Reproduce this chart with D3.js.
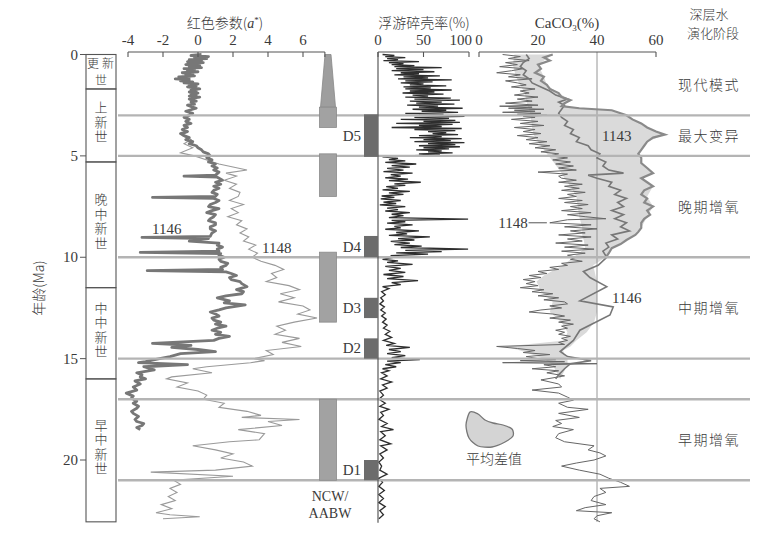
<!DOCTYPE html>
<html><head><meta charset="utf-8">
<script src="https://cdn.jsdelivr.net/npm/d3@7"></script>
<style>
body{margin:0;background:#fff}
svg{display:block}
text{font-family:'Liberation Serif','Noto Sans CJK SC',serif;fill:#3a3a3a}
.cjk{font-family:'Noto Sans CJK SC','Liberation Serif',sans-serif;font-weight:300}
</style>
</head><body>
<svg id="c" width="771" height="549"></svg>
<script>
// ---------------- DATA ----------------
const ageTicks = [0, 5, 10, 15, 20];
const redTicks = [-4, -2, 0, 2, 4, 6];
const fragTicks = [0, 50, 100];
const caTicks = [0, 20, 40, 60];

const epochNames = ["更新世", "上新世", "晚中新世", "中中新世", "早中新世"];
const epochBounds = [0, 1.7, 5.3, 11.5, 16.0, 23.05];

const eventLines = [3, 5, 10, 15, 17, 21];

const stageNames = ["现代模式", "最大变异", "晚期增氧", "中期增氧", "早期增氧"];
const stageSpans = [[0, 3], [3, 5], [5, 10], [10, 15], [17, 21]];

const ncwBars = [[0, 2.6, "taper"], [2.6, 3.6, "rect"], [4.9, 7.0, "rect"], [9.75, 13.2, "rect"], [17.0, 21.0, "rect"]];
const dEvents = [["D5", 2.95, 5.05], ["D4", 8.95, 10.0], ["D3", 12.0, 13.0], ["D2", 14.0, 15.0], ["D1", 20.0, 21.0]];

// red parameter a* (age Ma, a*)
const red1146 = [[0,0.2],[0.05,-0.4],[0.1,0.6],[0.15,-0.2],[0.2,0.5],[0.25,-0.5],[0.3,0.2],[0.35,-0.6],[0.4,0.3],[0.45,-0.3],[0.5,-0.7],[0.55,0.1],[0.6,-0.5],[0.65,0.2],[0.7,-0.8],[0.75,-0.2],[0.8,-0.6],[0.85,0.0],[0.9,-0.9],[0.95,-0.3],[1.0,-0.7],[1.05,-0.2],[1.1,-1.1],[1.15,-0.5],[1.2,-1.3],[1.25,-0.5],[1.3,-1.0],[1.35,-0.3],[1.4,-0.8],[1.45,0.0],[1.5,-0.5],[1.55,-0.1],[1.6,-0.6],[1.7,0.1],[1.75,-0.4],[1.8,-0.1],[1.85,-0.5],[1.9,0.0],[1.95,-0.4],[2.0,-0.1],[2.05,-0.5],[2.1,0.1],[2.15,-0.3],[2.2,-0.5],[2.3,-0.1],[2.35,-0.4],[2.45,-0.2],[2.5,-0.6],[2.6,-0.3],[2.65,-0.1],[2.75,-0.5],[2.8,-0.7],[2.9,-0.3],[3.0,-0.5],[3.1,-0.8],[3.2,-0.5],[3.3,-0.7],[3.4,-0.4],[3.5,-0.8],[3.6,-0.6],[3.7,-0.9],[3.8,-0.6],[3.9,-1.0],[4.0,-0.8],[4.1,-0.5],[4.2,-0.7],[4.3,-0.3],[4.4,-0.5],[4.5,-0.1],[4.6,0.0],[4.7,0.2],[4.8,0.3],[4.9,0.6],[5.0,0.7],[5.1,0.5],[5.2,0.8],[5.3,0.6],[5.4,1.0],[5.5,0.8],[5.6,1.1],[5.7,0.9],[5.8,1.2],[5.95,1.0],[6.0,-0.8],[6.05,1.1],[6.2,1.4],[6.3,1.0],[6.4,1.3],[6.5,0.9],[6.6,1.2],[6.7,0.9],[6.8,0.8],[6.9,1.1],[7.0,1.0],[7.05,-2.6],[7.1,0.9],[7.2,1.2],[7.3,1.0],[7.4,0.7],[7.5,0.6],[7.6,1.2],[7.7,0.8],[7.8,0.5],[7.9,1.0],[8.0,0.9],[8.1,0.7],[8.2,0.6],[8.3,1.0],[8.4,1.0],[8.5,0.7],[8.6,0.7],[8.7,1.0],[8.8,0.8],[8.97,0.7],[9.02,-3.2],[9.08,0.6],[9.2,-0.5],[9.3,1.2],[9.4,1.1],[9.5,1.4],[9.6,1.1],[9.7,1.2],[9.76,-3.3],[9.82,1.3],[9.9,1.2],[10.0,1.5],[10.1,1.2],[10.2,1.3],[10.3,1.7],[10.4,1.6],[10.5,1.3],[10.6,1.4],[10.66,-2.9],[10.72,1.6],[10.8,1.9],[10.9,2.2],[11.0,1.8],[11.1,1.9],[11.2,2.4],[11.3,2.5],[11.45,2.8],[11.6,2.2],[11.7,2.6],[11.8,2.5],[11.9,1.6],[12.0,1.1],[12.15,1.8],[12.25,1.5],[12.35,2.7],[12.5,1.6],[12.6,1.2],[12.7,0.7],[12.8,1.0],[12.9,1.2],[13.0,0.8],[13.1,0.9],[13.2,1.3],[13.3,1.0],[13.4,1.6],[13.5,1.1],[13.6,0.8],[13.7,1.3],[13.8,1.0],[13.9,1.8],[14.0,1.2],[14.1,0.9],[14.25,-2.6],[14.35,-0.4],[14.45,-1.5],[14.55,0.0],[14.65,1.0],[14.75,-1.0],[14.9,-1.6],[15.0,-2.2],[15.15,-3.0],[15.2,-3.4],[15.3,-0.6],[15.4,-3.1],[15.55,-2.5],[15.7,-3.5],[15.8,-3.2],[15.9,-3.3],[16.0,-3.0],[16.1,-3.6],[16.25,-3.3],[16.4,-3.7],[16.55,-3.5],[16.7,-4.1],[16.85,-3.7],[16.95,-3.8],[17.1,-3.5],[17.2,-3.7],[17.35,-3.4],[17.45,-3.5],[17.6,-3.8],[17.7,-3.7],[17.85,-3.4],[18.0,-3.6],[18.1,-3.5],[18.2,-3.1],[18.3,-3.2],[18.4,-3.5],[18.5,-3.3]];
const red1148 = [[3.8,-0.6],[4.0,-0.9],[4.2,-0.4],[4.4,-0.8],[4.6,-0.3],[4.85,-1.0],[5.0,-0.2],[5.2,0.5],[5.4,1.2],[5.55,2.0],[5.7,2.8],[5.85,1.6],[6.0,2.2],[6.2,1.5],[6.4,2.2],[6.6,1.8],[6.8,2.4],[7.0,2.3],[7.2,1.8],[7.4,2.6],[7.6,1.9],[7.8,2.3],[8.0,1.7],[8.2,2.5],[8.4,2.2],[8.6,2.8],[8.8,2.4],[9.0,2.9],[9.2,2.6],[9.4,3.3],[9.6,2.9],[9.8,3.4],[10.0,3.1],[10.2,3.6],[10.4,4.4],[10.6,4.9],[10.8,4.2],[11.0,4.5],[11.2,3.9],[11.4,5.2],[11.6,5.8],[11.8,4.7],[12.0,5.5],[12.2,4.6],[12.4,6.0],[12.6,6.4],[12.8,5.7],[13.0,6.8],[13.2,5.5],[13.4,4.5],[13.6,5.0],[13.8,4.4],[14.0,5.8],[14.2,4.8],[14.4,5.9],[14.6,3.9],[14.8,4.3],[15.0,3.2],[15.1,3.8],[15.2,3.0],[15.4,0.5],[15.5,-0.3],[15.7,0.8],[15.9,-1.5],[16.0,-1.8],[16.2,-0.6],[16.4,-1.2],[16.6,0.0],[16.8,0.5],[17.0,0.3],[17.2,1.5],[17.4,1.2],[17.6,2.8],[17.8,3.6],[17.9,2.5],[18.0,5.8],[18.1,4.0],[18.3,4.8],[18.5,2.3],[18.7,3.8],[19.0,3.5],[19.1,1.8],[19.3,-0.3],[19.5,1.0],[19.7,2.0],[19.9,1.3],[20.1,2.6],[20.3,3.1],[20.5,1.0],[20.6,-2.7],[20.8,2.0],[21.0,-1.4],[21.2,-1.0],[21.4,-1.6],[21.6,-1.2],[21.8,-1.7],[22.0,-1.3],[22.2,-2.1],[22.4,-1.5],[22.6,-2.4],[22.7,-1.6],[22.8,0.1],[22.9,-2.0]];

// planktonic foraminifera fragmentation (age Ma, %)
const frag = [[0.00,5],[0.05,18],[0.10,8],[0.15,30],[0.20,10],[0.25,22],[0.30,6],[0.35,45],[0.40,12],[0.45,28],[0.50,15],[0.55,40],[0.60,18],[0.65,70],[0.70,20],[0.75,50],[0.80,15],[0.85,62],[0.90,25],[0.95,45],[1.00,18],[1.05,68],[1.10,28],[1.15,55],[1.20,22],[1.25,81],[1.30,30],[1.35,60],[1.40,25],[1.45,50],[1.50,35],[1.55,75],[1.60,28],[1.65,58],[1.70,30],[1.75,81],[1.80,35],[1.85,62],[1.90,27],[1.95,72],[2.00,38],[2.05,55],[2.10,30],[2.15,80],[2.20,40],[2.25,90],[2.30,35],[2.35,70],[2.40,42],[2.45,84],[2.50,32],[2.55,66],[2.60,45],[2.65,93],[2.70,38],[2.75,75],[2.80,48],[2.85,88],[2.90,30],[2.95,72],[3.00,45],[3.05,95],[3.10,40],[3.15,78],[3.20,25],[3.25,85],[3.30,50],[3.35,90],[3.40,20],[3.45,82],[3.50,45],[3.55,70],[3.60,15],[3.65,92],[3.70,40],[3.75,85],[3.80,55],[3.85,75],[3.90,60],[3.95,88],[4.00,45],[4.05,70],[4.10,35],[4.15,92],[4.20,50],[4.25,80],[4.30,40],[4.35,95],[4.40,55],[4.45,85],[4.50,45],[4.55,90],[4.60,50],[4.65,78],[4.70,42],[4.75,70],[4.80,55],[4.85,82],[4.90,45],[4.95,68],[5.00,30],[5.05,5],[5.12,22],[5.18,12],[5.25,30],[5.32,8],[5.40,42],[5.48,15],[5.55,35],[5.62,10],[5.70,28],[5.78,6],[5.85,38],[5.92,14],[6.00,25],[6.08,8],[6.15,33],[6.22,12],[6.30,47],[6.38,18],[6.45,30],[6.52,9],[6.60,22],[6.68,5],[6.75,35],[6.82,12],[6.90,28],[6.98,4],[7.05,18],[7.12,3],[7.20,25],[7.28,6],[7.35,20],[7.42,2],[7.50,30],[7.58,10],[7.65,22],[7.72,8],[7.80,35],[7.88,15],[7.95,28],[8.05,12],[8.12,99],[8.18,15],[8.25,30],[8.32,10],[8.40,38],[8.48,18],[8.55,25],[8.62,8],[8.70,45],[8.78,20],[8.85,32],[8.92,12],[9.00,57],[9.08,22],[9.15,40],[9.22,14],[9.30,35],[9.38,18],[9.45,48],[9.52,25],[9.60,99],[9.66,30],[9.72,70],[9.78,20],[9.85,55],[9.92,15],[10.00,17],[10.10,5],[10.18,22],[10.25,10],[10.35,38],[10.45,8],[10.55,25],[10.65,12],[10.75,30],[10.85,6],[10.95,28],[11.05,10],[11.15,44],[11.25,15],[11.35,25],[11.45,5],[11.55,12],[11.70,4],[11.85,8],[12.00,3],[12.15,6],[12.30,2],[12.45,7],[12.60,3],[12.75,8],[12.90,4],[13.05,9],[13.20,5],[13.35,10],[13.50,6],[13.65,13],[13.80,8],[13.95,15],[14.10,6],[14.25,18],[14.35,9],[14.45,35],[14.55,12],[14.65,25],[14.75,10],[14.85,30],[14.95,15],[15.05,46],[15.12,10],[15.20,25],[15.30,8],[15.40,20],[15.50,5],[15.60,12],[15.70,4],[15.85,10],[16.00,3],[16.15,15],[16.30,5],[16.45,10],[16.60,2],[16.80,6],[17.00,1],[17.20,8],[17.35,2],[17.50,12],[17.65,3],[17.80,6],[18.00,1],[18.20,10],[18.35,4],[18.50,17],[18.60,3],[18.80,8],[19.00,2],[19.20,14],[19.30,3],[19.50,10],[19.70,2],[19.90,6],[20.10,1],[20.30,4],[20.50,2],[20.70,10],[20.90,1],[21.10,5],[21.30,1],[21.50,7],[21.70,1],[21.90,6],[22.10,1],[22.30,8],[22.50,2],[22.70,6],[22.90,1]];

// CaCO3 (age Ma, %)
const ca1148 = [[0.0,8],[0.1,14],[0.2,10],[0.3,17],[0.4,9],[0.5,13],[0.6,7],[0.7,15],[0.8,11],[0.9,6],[1.0,14],[1.1,10],[1.2,18],[1.3,9],[1.4,13],[1.5,16],[1.6,11],[1.7,19],[1.8,14],[1.9,17],[2.0,12],[2.1,20],[2.2,13],[2.3,18],[2.4,9],[2.5,20],[2.55,7],[2.6,18],[2.65,10],[2.7,22],[2.75,12],[2.8,19],[2.85,8],[2.9,21],[2.95,13],[3.0,23],[3.05,15],[3.1,19],[3.2,11],[3.3,20],[3.4,14],[3.5,22],[3.6,12],[3.7,19],[3.8,15],[3.9,21],[4.0,13],[4.1,20],[4.2,16],[4.3,23],[4.4,17],[4.5,24],[4.6,19],[4.7,26],[4.8,21],[4.9,27],[5.0,24],[5.1,30],[5.2,25],[5.3,31],[5.4,26],[5.5,32],[5.6,27],[5.7,33],[5.8,20],[5.9,30],[6.0,27],[6.1,28],[6.2,33],[6.3,27],[6.4,35],[6.5,29],[6.6,34],[6.7,28],[6.8,36],[6.9,30],[7.0,33],[7.1,27],[7.2,35],[7.3,29],[7.4,37],[7.5,31],[7.6,35],[7.7,28],[7.8,38],[7.9,30],[8.0,36],[8.1,43],[8.15,30],[8.3,24],[8.4,38],[8.5,29],[8.6,40],[8.7,31],[8.8,36],[8.9,27],[9.0,38],[9.1,30],[9.2,35],[9.3,26],[9.4,37],[9.5,29],[9.6,39],[9.7,28],[9.8,36],[9.9,30],[10.0,33],[10.1,31],[10.2,35],[10.3,28],[10.4,30],[10.5,24],[10.6,27],[10.7,20],[10.8,23],[10.9,17],[11.0,21],[11.1,15],[11.2,19],[11.3,16],[11.4,20],[11.5,14],[11.6,22],[11.7,18],[11.8,25],[11.9,20],[12.0,27],[12.1,22],[12.2,29],[12.3,30],[12.4,24],[12.5,28],[12.6,21],[12.7,17],[12.8,25],[12.9,29],[13.0,24],[13.1,31],[13.2,27],[13.3,32],[13.4,28],[13.5,30],[13.6,26],[13.7,29],[13.8,27],[13.9,31],[14.0,28],[14.1,30],[14.2,27],[14.3,29],[14.4,6],[14.5,13],[14.6,19],[14.7,15],[14.8,24],[14.9,16],[15.0,20],[15.05,26],[15.1,14],[15.15,29],[15.2,8],[15.25,40],[15.3,22],[15.4,26],[15.5,18],[15.6,27],[15.7,23],[15.85,29],[16.05,21],[16.25,27],[16.4,28],[16.55,18],[16.7,27],[16.9,30],[17.05,32],[17.2,27],[17.4,30],[17.5,37],[17.7,27],[17.9,34],[18.05,26],[18.2,28],[18.35,25],[18.5,32],[18.7,27],[18.9,26],[19.1,29],[19.3,39],[19.5,37],[19.65,41],[19.8,43],[20.0,39],[20.15,33],[20.3,28],[20.5,34],[20.7,41],[20.9,44],[21.1,48],[21.3,51],[21.4,41],[21.6,43],[21.8,39],[22.0,38],[22.2,43],[22.35,36],[22.5,33],[22.6,45],[22.75,40],[22.9,39],[23.05,41]];
const ca1146 = [[0.0,16],[0.2,17],[0.4,15],[0.6,14],[0.8,16],[1.0,15],[1.2,17],[1.4,18],[1.6,21],[1.8,24],[2.0,26],[2.2,30],[2.35,27],[2.5,29],[2.7,28],[2.9,27],[3.1,28],[3.3,30],[3.5,29],[3.7,32],[3.9,31],[4.1,34],[4.3,33],[4.5,37],[4.7,38],[4.9,41],[5.1,40],[5.3,43],[5.5,42],[5.7,44],[5.85,49],[5.95,37],[6.1,40],[6.3,45],[6.5,44],[6.7,48],[6.9,46],[7.1,50],[7.3,47],[7.5,49],[7.7,45],[7.9,49],[8.1,46],[8.3,50],[8.5,48],[8.7,51],[8.9,45],[9.1,47],[9.3,43],[9.5,44],[9.7,42],[10.0,43.3],[10.4,40.4],[10.7,35.4],[11.0,37.6],[11.45,43.3],[12.15,34.2],[12.45,45.5],[12.85,44.4],[13.6,34.2],[14.1,32],[14.65,27.5],[14.9,30],[15.1,38],[15.25,31],[15.5,29],[15.8,27],[16.0,26]];
const ca1143 = [[0.0,25],[0.15,22],[0.3,24],[0.5,20],[0.7,21],[0.9,19],[1.1,22],[1.3,21],[1.5,23],[1.7,24],[1.9,27],[2.1,28],[2.25,31],[2.4,29],[2.55,28],[2.65,34],[2.75,45],[2.9,48],[3.0,50],[3.2,52],[3.4,55],[3.6,57],[3.8,60],[3.95,63],[4.1,59],[4.3,57],[4.5,56],[4.7,55],[4.9,54],[5.1,55],[5.35,55],[5.6,57],[5.85,59],[6.1,55],[6.3,57],[6.5,59],[6.7,56],[6.9,55],[7.1,57],[7.3,56],[7.5,59],[7.7,57],[7.9,58],[8.1,56],[8.3,55],[8.55,55],[8.75,54],[8.9,53],[9.15,50],[9.35,48],[9.55,45],[9.8,44],[10.0,43]];
// mean difference band (age, low %, high %)
const meanDiff = [[0.0,12,25],[0.5,11.5,20],[1.1,12.5,22],[1.5,14,23],[1.9,15.5,27],[2.25,16,31],[2.55,16.5,28],[2.65,17,34],[2.75,17,45],[3.0,17.5,50],[3.6,18,57],[3.95,18.5,63],[4.3,20,57],[4.9,23,54],[5.35,25.5,55],[5.85,28,59],[6.1,29,55],[6.5,31,59],[7.0,33,57],[7.5,33.5,59],[8.0,34,57],[8.55,35,55],[8.9,35,53],[9.15,35.5,50],[9.55,36,45],[10.0,32,43],[10.4,28.5,38.7],[10.9,22,39.5],[11.2,19.5,40],[11.7,21,40],[12.2,25,40],[12.7,24,40],[13.2,28,39],[13.7,30,36.5],[14.1,29,33],[14.4,9,31],[14.6,14,28.5],[14.8,18,29],[15.0,22,30],[15.3,25,30],[15.6,26,29],[16.0,27.5,27.5]];

// ---------------- LAYOUT ----------------
const svg = d3.select("#c");
const y = d3.scaleLinear().domain([0, 20]).range([54.5, 460]);
const xRed = d3.scaleLinear().domain([-4, 6]).range([128, 303]);
const xFrag = d3.scaleLinear().domain([0, 100]).range([378, 469]);
const xCa = d3.scaleLinear().domain([0, 60]).range([479, 656]);
const axisY = 52, bottomY = y(23.05);
const epX0 = 86, epX1 = 116;

// shading band
svg.append("path").datum(meanDiff)
  .attr("d", d3.area().y(d => y(d[0])).x0(d => xCa(d[1])).x1(d => xCa(d[2])))
  .attr("fill", "#dadada");

// 40% gridline
svg.append("line").attr("x1", xCa(40)).attr("x2", xCa(40)).attr("y1", axisY).attr("y2", bottomY)
  .attr("stroke", "#8a8a8a").attr("stroke-width", 0.9);

// curves
const lineAV = sx => d3.line().x(d => sx(d[1])).y(d => y(d[0]));
svg.append("path").datum(red1148).attr("d", lineAV(xRed)).attr("fill", "none").attr("stroke", "#9a9a9a").attr("stroke-width", 1.1);
svg.append("path").datum(red1146).attr("d", lineAV(xRed)).attr("fill", "none").attr("stroke", "#777").attr("stroke-width", 2.8).attr("stroke-linejoin", "round");
svg.append("path").datum(frag).attr("d", lineAV(xFrag)).attr("fill", "none").attr("stroke", "#2e2e2e").attr("stroke-width", 1.3);
svg.append("path").datum(ca1148).attr("d", lineAV(xCa)).attr("fill", "none").attr("stroke", "#666").attr("stroke-width", 1);
svg.append("path").datum(ca1146).attr("d", lineAV(xCa)).attr("fill", "none").attr("stroke", "#777").attr("stroke-width", 1.6);
svg.append("path").datum(ca1143).attr("d", lineAV(xCa)).attr("fill", "none").attr("stroke", "#8a8a8a").attr("stroke-width", 2.2);

// event lines
svg.selectAll(".ev").data(eventLines).enter().append("line")
  .attr("x1", 118).attr("x2", 750).attr("y1", d => y(d)).attr("y2", d => y(d))
  .attr("stroke", "#b4b4b4").attr("stroke-width", 2.4);

// fragmentation axis vertical line
svg.append("line").attr("x1", xFrag(0)).attr("x2", xFrag(0)).attr("y1", axisY).attr("y2", bottomY + 1)
  .attr("stroke", "#4a4a4a").attr("stroke-width", 1.1);

// NCW/AABW bars
const bx0 = 319.5, bx1 = 336.5, bxc = (bx0 + bx1) / 2;
ncwBars.forEach(b => {
  if (b[2] === "taper") {
    svg.append("path")
      .attr("d", `M${bxc - 3},${y(b[0])}L${bxc + 3},${y(b[0])}L${bx1 - 1},${y(b[1])}L${bx0 + 1},${y(b[1])}Z`)
      .attr("fill", "#9e9e9e").attr("stroke", "#888").attr("stroke-width", 0.8);
  } else {
    svg.append("rect").attr("x", bx0).attr("width", bx1 - bx0).attr("y", y(b[0])).attr("height", y(b[1]) - y(b[0]))
      .attr("fill", "#a2a2a2").attr("stroke", "#8a8a8a").attr("stroke-width", 0.8);
  }
});
svg.append("text").attr("x", bxc + 2).attr("y", 501).attr("text-anchor", "middle").style("font-size", "14px").text("NCW/");
svg.append("text").attr("x", bxc + 2).attr("y", 518).attr("text-anchor", "middle").style("font-size", "14px").text("AABW");

// D boxes
dEvents.forEach(d => {
  svg.append("rect").attr("x", 364).attr("width", xFrag(0) - 364).attr("y", y(d[1])).attr("height", y(d[2]) - y(d[1]))
    .attr("fill", "#6c6c6c");
  svg.append("text").attr("x", 361).attr("y", (y(d[1]) + y(d[2])) / 2 + 5).attr("text-anchor", "end")
    .style("font-size", "15px").text(d[0]);
});

// epoch column
epochNames.forEach((n, i) => {
  const t = y(epochBounds[i]), b = y(epochBounds[i + 1]);
  svg.append("rect").attr("x", epX0).attr("y", t).attr("width", epX1 - epX0).attr("height", b - t)
    .attr("fill", "none").attr("stroke", "#555").attr("stroke-width", 1.1);
  const cx = (epX0 + epX1) / 2, cy = (t + b) / 2;
  const chars = Array.from(n);
  if (b - t < 45) {
    svg.append("text").attr("class", "cjk").attr("x", cx + 1).attr("y", cy - 4).attr("text-anchor", "middle")
      .style("font-size", "12px").style("letter-spacing", "3px").text(chars.slice(0, 2).join(""));
    svg.append("text").attr("class", "cjk").attr("x", cx).attr("y", cy + 13.5).attr("text-anchor", "middle")
      .style("font-size", "12px").text(chars.slice(2).join(""));
  } else {
    svg.append("text").attr("class", "cjk").attr("x", cx).attr("y", cy - 3)
      .attr("text-anchor", "middle").style("writing-mode", "vertical-rl").style("glyph-orientation-vertical", "0")
      .style("font-size", "13px").style("letter-spacing", "1.5px").text(n);
  }
});
// age ticks
ageTicks.forEach(t => {
  svg.append("line").attr("x1", 80).attr("x2", epX0).attr("y1", y(t)).attr("y2", y(t)).attr("stroke", "#555").attr("stroke-width", 1);
  svg.append("text").attr("x", 78).attr("y", y(t) + 5).attr("text-anchor", "end").style("font-size", "15px").text(t);
});
svg.append("text").attr("class", "cjk").attr("transform", `translate(44,288) rotate(-90)`).attr("text-anchor", "middle")
  .style("font-size", "14px").text("年龄(Ma)");

// top axes
function topAxis(sx, x0, x1, tickVals, labelAt) {
  svg.append("line").attr("x1", x0).attr("x2", x1).attr("y1", axisY).attr("y2", axisY).attr("stroke", "#555").attr("stroke-width", 1.1);
  tickVals.forEach(v => svg.append("line").attr("x1", v).attr("x2", v).attr("y1", axisY).attr("y2", axisY + 5).attr("stroke", "#555").attr("stroke-width", 1.1));
  labelAt.forEach(([v, txt, anchor, dx]) => svg.append("text").attr("x", sx(v) + (dx || 0)).attr("y", 45)
    .attr("text-anchor", anchor || "middle").style("font-size", "15px").text(txt));
}
topAxis(xRed, xRed(-4), xRed(7.25), redTicks.map(xRed).concat([xRed(7.25)]), redTicks.map(v => [v, v]));
topAxis(xFrag, xFrag(0), xFrag(100), fragTicks.map(xFrag), fragTicks.map(v => [v, v, v === 100 ? "end" : "middle", v === 100 ? 3 : 0]));
topAxis(xCa, xCa(0), xCa(60), [xCa(0), xCa(60)], caTicks.map(v => [v, v]));

// titles
const t1 = svg.append("text").attr("x", 225).attr("y", 28).attr("text-anchor", "middle").style("font-size", "14px");
t1.append("tspan").attr("class", "cjk").text("红色参数(");
t1.append("tspan").style("font-style", "italic").text("a");
t1.append("tspan").attr("dy", -5).style("font-size", "9px").text("*");
t1.append("tspan").attr("dy", 5).attr("class", "cjk").text(")");
svg.append("text").attr("class", "cjk").attr("x", 424).attr("y", 28).attr("text-anchor", "middle").style("font-size", "14px").text("浮游碎壳率(%)");
const t3 = svg.append("text").attr("x", 567).attr("y", 28).attr("text-anchor", "middle").style("font-size", "15px");
t3.append("tspan").text("CaCO");
t3.append("tspan").attr("dy", 3).style("font-size", "9px").text("3");
t3.append("tspan").attr("dy", -3).text("(%)");
svg.append("text").attr("class", "cjk").attr("x", 709).attr("y", 19).attr("text-anchor", "middle").style("font-size", "13px").text("深层水");
svg.append("text").attr("class", "cjk").attr("x", 713).attr("y", 37.5).attr("text-anchor", "middle").style("font-size", "13px").text("演化阶段");

// stage labels
stageNames.forEach((n, i) => {
  const m = (stageSpans[i][0] + stageSpans[i][1]) / 2;
  svg.append("text").attr("class", "cjk").attr("x", 709).attr("y", y(m) + 5).attr("text-anchor", "middle")
    .style("font-size", "14px").style("letter-spacing", "1.5px").text(n);
});

// series annotations
const ann = (x, yy, txt) => svg.append("text").attr("x", x).attr("y", yy).style("font-size", "15px").text(txt);
ann(xRed(-2.63), y(8.85), "1146");
ann(xRed(3.66), y(9.8), "1148");
ann(xCa(41.7), y(4.27), "1143");
ann(xCa(45.1), y(12.26), "1146");
svg.append("text").attr("x", xCa(16.5)).attr("y", y(8.3) + 5).attr("text-anchor", "end").style("font-size", "15px").text("1148");
svg.append("line").attr("x1", xCa(16.8)).attr("x2", xCa(23)).attr("y1", y(8.3)).attr("y2", y(8.3)).attr("stroke", "#555").attr("stroke-width", 1);

// legend blob for mean difference
const blob = [[470,412],[478,414],[485,420],[493,423],[503,425],[512,429],[513,436],[505,442],[492,447],[478,446],[469,438],[466,425]];
svg.append("path").datum(blob).attr("d", d3.line().curve(d3.curveCardinalClosed.tension(0.2)))
  .attr("fill", "#d4d4d4").attr("stroke", "#777").attr("stroke-width", 1.3);
svg.append("text").attr("class", "cjk").attr("x", 494).attr("y", 464).attr("text-anchor", "middle").style("font-size", "14px").text("平均差值");
</script>
</body></html>
